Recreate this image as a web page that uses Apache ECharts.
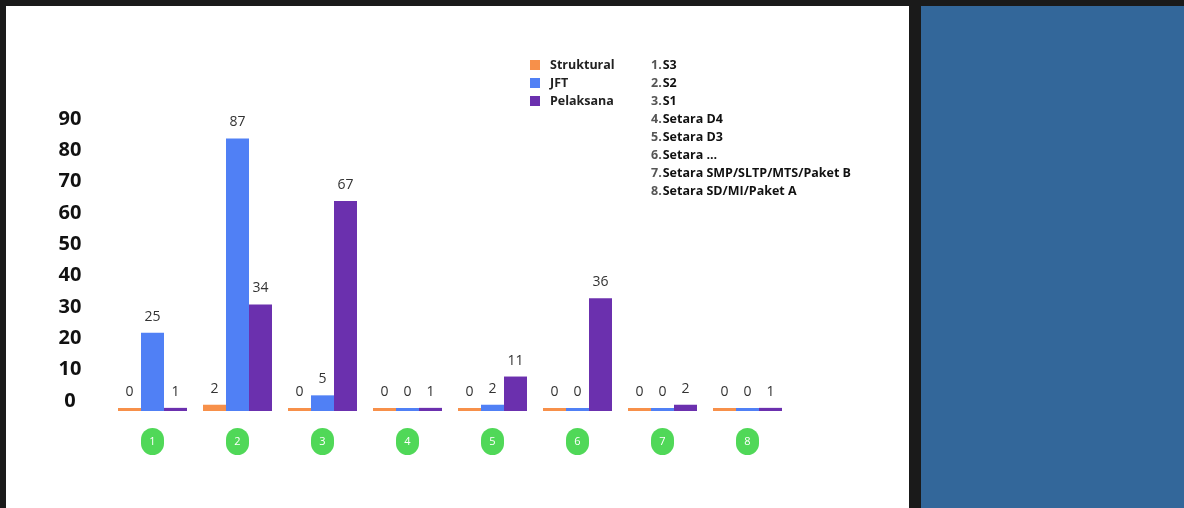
<!DOCTYPE html>
<html>
<head>
<meta charset="utf-8">
<script src="https://cdn.jsdelivr.net/npm/echarts@6/dist/echarts.min.js"></script>
<style>
    html, body { margin: 0; padding: 0; background: #1a1a1a; width: 1184px; height: 508px; overflow: hidden; }
    #panel { position: absolute; left: 6px; top: 6px; width: 903px; height: 502px; background: #ffffff; }
    #side { position: absolute; left: 921px; top: 6px; width: 263px; height: 502px; background: #33679a; }
    #main { position: absolute; left: 0; top: 0; width: 1184px; height: 508px; }
</style>
</head>
<body>
<div id="panel"></div>
<div id="side"></div>
<div id="main"></div>
<script>
// kategori pendidikan
var categories = ['S3', 'S2', 'S1', 'Setara D4', 'Setara D3', 'Setara ...', 'Setara SMP/SLTP/MTS/Paket B', 'Setara SD/MI/Paket A'];
var seriesNames = ['Struktural', 'JFT', 'Pelaksana'];
var struktural = [0, 2, 0, 0, 0, 0, 0, 0];
var jft = [25, 87, 5, 0, 2, 0, 0, 0];
var pelaksana = [1, 34, 67, 1, 11, 36, 2, 1];
var yTicks = [0, 10, 20, 30, 40, 50, 60, 70, 80, 90];

var colors = ['#f7904a', '#5080f5', '#6b30ae'];

var myChart = echarts.init(document.getElementById('main'));

// daftar keterangan nomor kategori
var listLines = [];
for (var i = 0; i < categories.length; i++) {
    listLines.push('{n|' + (i + 1) + '.}{b|' + categories[i] + '}');
}

var allData = [struktural, jft, pelaksana];
var temp_series = [];
for (var k = 0; k < seriesNames.length; k++) {
    temp_series.push({
        name: seriesNames[k],
        type: 'bar',
        barWidth: 23,
        barGap: '0%',
        barMinHeight: 3,
        itemStyle: { color: colors[k] },
        label: {
            show: true,
            position: 'top',
            distance: 9,
            color: '#333',
            fontSize: 14,
            fontFamily: 'Open Sans'
        },
        data: allData[k]
    });
}

var option = {
    animation: false,
    textStyle: { fontFamily: 'Open Sans' },
    title: {
        text: listLines.join('\n'),
        left: 646,
        top: 51,
        textStyle: {
            fontSize: 12.5,
            lineHeight: 18,
            rich: {
                n: { fontSize: 12.5, color: '#555', fontFamily: 'Open Sans', lineHeight: 18, padding: [0, 1, 0, 0] },
                b: { fontSize: 12.5, color: '#111', fontWeight: 'bold', fontFamily: 'Open Sans', lineHeight: 18 }
            }
        }
    },
    legend: {
        data: seriesNames,
        orient: 'vertical',
        left: 525,
        top: 53,
        itemWidth: 10,
        itemHeight: 10,
        itemGap: 4,
        icon: 'rect',
        textStyle: { fontSize: 12.5, fontWeight: 'bold', color: '#222', lineHeight: 14, padding: [0, 0, 0, 5] }
    },
    grid: { left: 110, right: 394, top: 129, bottom: 97 },
    xAxis: {
        type: 'category',
        data: categories,
        axisLine: { show: false },
        axisTick: { show: false },
        axisLabel: {
            margin: 17,
            interval: 0,
            formatter: function (v) {
                return '{c|' + (categories.indexOf(v) + 1) + '}';
            },
            rich: {
                c: {
                    backgroundColor: '#50d858',
                    color: '#fff',
                    width: 23,
                    height: 27,
                    lineHeight: 27,
                    borderRadius: 13,
                    align: 'center',
                    fontSize: 11
                }
            }
        }
    },
    yAxis: {
        type: 'value',
        min: yTicks[0],
        max: yTicks[yTicks.length - 1],
        interval: yTicks[1] - yTicks[0],
        splitLine: { show: false },
        axisLine: { show: false },
        axisTick: { show: false },
        axisLabel: {
            margin: 40,
            align: 'center',
            verticalAlign: 'bottom',
            fontSize: 20,
            fontWeight: 'bold',
            color: '#111'
        }
    },
    series: temp_series
};

myChart.setOption(option);
</script>
</body>
</html>
